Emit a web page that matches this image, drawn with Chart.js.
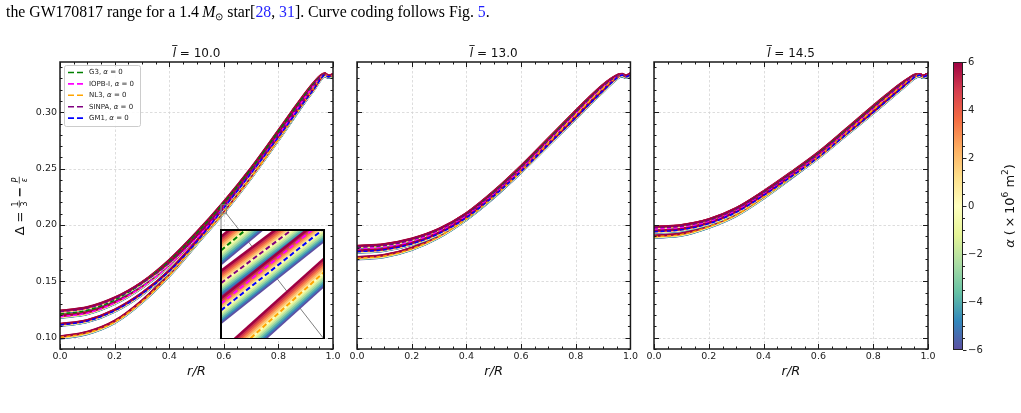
<!DOCTYPE html>
<html>
<head>
<meta charset="utf-8">
<script src="https://cdn.jsdelivr.net/npm/chart.js@4.4.0/dist/chart.umd.min.js"></script>
<style>
body { margin: 0; background: #fff; width: 1021px; height: 413px; overflow: hidden; position: relative; }
canvas { position: absolute; }
#caption { position: absolute; left: 6px; top: 2px; font-family: "Liberation Serif", serif; font-size: 15.8px; line-height: 20px; white-space: nowrap; color: #000; z-index: 5; }
#caption .ref { color: #1f1fff; }
#caption sub { font-size: 10px; line-height: 0; vertical-align: -3px; }
</style>
</head>
<body>
<div id="caption">the GW170817 range for a 1.4&#8201;<i>M</i><sub>&#8857;</sub> star[<span class="ref">28</span>, <span class="ref">31</span>]. Curve coding follows Fig. <span class="ref">5</span>.</div>
<canvas id="p1" width="345" height="413" style="left:0;top:0"></canvas>
<canvas id="p2" width="300" height="413" style="left:340px;top:0"></canvas>
<canvas id="p3" width="300" height="413" style="left:640px;top:0"></canvas>
<canvas id="inset" width="105" height="110" style="left:220px;top:229px"></canvas>
<canvas id="cb" width="81" height="413" style="left:940px;top:0"></canvas>
<script>
// ==========================================
// DATOS
// ==========================================
const rGrid = [0, 0.1, 0.2, 0.3, 0.4, 0.5, 0.6, 0.7, 0.8, 0.85, 0.9, 0.93, 0.955, 0.97, 0.983, 1.0];

const eosNames = ['G3', 'IOPB-I', 'NL3', 'SINPA', 'GM1'];
const eosColors = ['#008000', '#ff00ff', '#ffa500', '#800080', '#0000ff'];
const alphaVals = [-6, -5, -4, -3, -2, -1, 0, 1, 2, 3, 4, 5, 6];
// desplazamiento de Delta para alpha = 6 (x10^6 m^2), por EOS
const alphaSpread = [0.0010, 0.0009, 0.0010, 0.0009, 0.0009];

const panelLabels = ['10.0', '13.0', '14.5'];

// l = 10.0, alpha = 0
const g3_10    = [0.1210,0.1243,0.1335,0.1482,0.1680,0.1925,0.2197,0.2497,0.2830,0.3000,0.3165,0.3255,0.3318,0.3335,0.3316,0.3326];
const iopb_10  = [0.1186,0.1218,0.1308,0.1450,0.1640,0.1880,0.2157,0.2462,0.2795,0.2968,0.3140,0.3240,0.3312,0.3334,0.3316,0.3326];
const nl3_10   = [0.1003,0.1042,0.1140,0.1320,0.1555,0.1835,0.2115,0.2425,0.2760,0.2935,0.3112,0.3218,0.3305,0.3332,0.3316,0.3326];
const sinpa_10 = [0.1231,0.1262,0.1347,0.1482,0.1662,0.1896,0.2169,0.2472,0.2805,0.2978,0.3148,0.3245,0.3314,0.3334,0.3316,0.3326];
const gm1_10   = [0.1113,0.1148,0.1240,0.1388,0.1588,0.1848,0.2151,0.2460,0.2780,0.2945,0.3110,0.3205,0.3295,0.3330,0.3316,0.3326];

// l = 13.0
const g3_13    = [0.1800,0.1816,0.1866,0.1955,0.2095,0.2290,0.2515,0.2760,0.3005,0.3125,0.3235,0.3290,0.3324,0.3330,0.3314,0.3334];
const iopb_13  = [0.1790,0.1806,0.1856,0.1946,0.2085,0.2277,0.2500,0.2745,0.2990,0.3113,0.3227,0.3285,0.3321,0.3330,0.3314,0.3334];
const nl3_13   = [0.1705,0.1725,0.1788,0.1898,0.2055,0.2250,0.2478,0.2728,0.2975,0.3098,0.3212,0.3275,0.3318,0.3329,0.3314,0.3334];
const sinpa_13 = [0.1806,0.1822,0.1870,0.1957,0.2093,0.2285,0.2508,0.2752,0.2998,0.3120,0.3232,0.3288,0.3323,0.3330,0.3314,0.3334];
const gm1_13   = [0.1763,0.1780,0.1832,0.1924,0.2065,0.2256,0.2474,0.2712,0.2950,0.3072,0.3190,0.3260,0.3312,0.3329,0.3314,0.3334];

// l = 14.5
const g3_14    = [0.1972,0.1988,0.2040,0.2140,0.2290,0.2458,0.2636,0.2840,0.3048,0.3148,0.3243,0.3293,0.3326,0.3328,0.3314,0.3334];
const iopb_14  = [0.1964,0.1980,0.2032,0.2131,0.2280,0.2446,0.2622,0.2826,0.3032,0.3136,0.3234,0.3288,0.3323,0.3328,0.3314,0.3334];
const nl3_14   = [0.1896,0.1915,0.1985,0.2090,0.2245,0.2422,0.2608,0.2812,0.3022,0.3126,0.3226,0.3284,0.3321,0.3328,0.3314,0.3334];
const sinpa_14 = [0.1976,0.1991,0.2042,0.2140,0.2287,0.2453,0.2630,0.2833,0.3040,0.3142,0.3240,0.3291,0.3325,0.3328,0.3314,0.3334];
const gm1_14   = [0.1940,0.1957,0.2012,0.2113,0.2262,0.2427,0.2600,0.2800,0.2998,0.3102,0.3205,0.3268,0.3316,0.3328,0.3314,0.3334];

// inset (zoom en r/R = 0.59 .. 0.61, l = 10.0)
const insetR = [0.59, 0.61];
const insetRange = { xMin: 0.59, xMax: 0.61, yMin: 0.210, yMax: 0.218 };
const g3_in    = [0.2165, 0.2228];
const iopb_in  = [0.2126, 0.2187];
const nl3_in   = [0.2081, 0.2149];
const sinpa_in = [0.2141, 0.2198];
const gm1_in   = [0.2121, 0.2181];

// ticks
const xTicks = [0, 0.2, 0.4, 0.6, 0.8, 1.0];
const yTicks = [0.10, 0.15, 0.20, 0.25, 0.30];
const yMin = 0.09, yMax = 0.3446;
const cbTicks = [-6, -4, -2, 0, 2, 4, 6];

// mapa de color Spectral (alpha = 6 arriba, -6 abajo)
const spectral = ['#9e0142','#d53e4f','#f46d43','#fdae61','#fee08b','#ffffbf','#e6f598','#abdda4','#66c2a5','#3288bd','#5e4fa2'];

Chart.defaults.font.family = '"DejaVu Sans", sans-serif';
Chart.defaults.color = '#222';

// ==========================================
// AUXILIARES
// ==========================================
function hexToRgb(h) {
    return [parseInt(h.slice(1, 3), 16), parseInt(h.slice(3, 5), 16), parseInt(h.slice(5, 7), 16)];
}

function alphaColor(a) {
    const t = (6 - a) / 12 * (spectral.length - 1);
    const i = Math.min(Math.floor(t), spectral.length - 2);
    const f = t - i;
    const c0 = hexToRgb(spectral[i]), c1 = hexToRgb(spectral[i + 1]);
    const c = c0.map((v, k) => Math.round(v + (c1[k] - v) * f));
    return `rgb(${c[0]},${c[1]},${c[2]})`;
}

// bandas de alpha primero, luego las curvas alpha = 0 punteadas
function buildDatasets(vals, xs, bandW, dashW, dash) {
    const sets = [];
    let n = 0;
    eosNames.forEach((name, e) => {
        alphaVals.forEach(a => {
            sets.push({
                data: xs.map((x, i) => ({ x: x, y: vals[e][i] + a / 6 * alphaSpread[e] })),
                borderColor: alphaColor(a),
                borderWidth: bandW,
                pointRadius: 0,
                cubicInterpolationMode: 'monotone',
                order: 10000 - n++
            });
        });
    });
    eosNames.forEach((name, e) => {
        sets.push({
            label: name,
            data: xs.map((x, i) => ({ x: x, y: vals[e][i] })),
            borderColor: eosColors[e],
            borderWidth: dashW,
            borderDash: dash,
            pointRadius: 0,
            cubicInterpolationMode: 'monotone',
            order: 10000 - n++
        });
    });
    return sets;
}

function seg(ctx, x1, y1, x2, y2) {
    ctx.beginPath();
    ctx.moveTo(x1, y1);
    ctx.lineTo(x2, y2);
    ctx.stroke();
}

// rejilla punteada + ejes con ticks hacia adentro (estilo matplotlib)
const framePlugin = {
    id: 'frame',
    beforeDatasetsDraw(chart) {
        const { ctx, chartArea: a, scales: { x, y } } = chart;
        ctx.save();
        ctx.strokeStyle = '#d4d4d4';
        ctx.lineWidth = 0.8;
        ctx.setLineDash([2.5, 2]);
        xTicks.forEach(v => {
            const px = Math.round(x.getPixelForValue(v)) + 0.5;
            seg(ctx, px, a.top, px, a.bottom);
        });
        yTicks.forEach(v => {
            const py = Math.round(y.getPixelForValue(v)) + 0.5;
            seg(ctx, a.left, py, a.right, py);
        });
        ctx.restore();
    },
    afterDatasetsDraw(chart) {
        const { ctx, chartArea: a, scales: { x, y } } = chart;
        ctx.save();
        ctx.strokeStyle = '#1a1a1a';
        ctx.lineWidth = 1;
        for (let k = 0; k <= 20; k++) {
            const px = Math.round(x.getPixelForValue(k / 20)) + 0.5;
            const len = (k % 4 === 0) ? 5 : 2.5;
            seg(ctx, px, a.bottom, px, a.bottom - len);
            seg(ctx, px, a.top, px, a.top + len);
        }
        for (let k = 9; k <= 34; k++) {
            const py = Math.round(y.getPixelForValue(k / 100)) + 0.5;
            const len = (k % 5 === 0) ? 5 : 2.5;
            seg(ctx, a.left, py, a.left + len, py);
            seg(ctx, a.right, py, a.right - len, py);
        }
        ctx.lineWidth = 1.5;
        ctx.strokeRect(a.left, a.top, a.right - a.left, a.bottom - a.top);

        // titulo  l-barra = valor
        const cx = (a.left + a.right) / 2, by = 56.5;
        ctx.fillStyle = '#111';
        ctx.textBaseline = 'alphabetic';
        ctx.font = 'italic 12px "DejaVu Sans"';
        const wl = ctx.measureText('l').width;
        ctx.font = '12px "DejaVu Sans"';
        const rest = ' = ' + chart.options.plugins.frame.label;
        const wr = ctx.measureText(rest).width;
        const x0 = cx - (wl + wr) / 2;
        ctx.font = 'italic 12px "DejaVu Sans"';
        ctx.fillText('l', x0, by);
        ctx.lineWidth = 0.9;
        seg(ctx, x0 - 0.5, by - 11, x0 + wl + 1.5, by - 11);
        ctx.font = '12px "DejaVu Sans"';
        ctx.fillText(rest, x0 + wl, by);

        // titulo eje x
        ctx.font = 'italic 13px "DejaVu Sans"';
        ctx.textAlign = 'center';
        ctx.fillText('r/R', cx, 375);
        ctx.restore();
    }
};

// leyenda, recuadro del zoom y titulo del eje y (solo panel 1)
const panel1Plugin = {
    id: 'panel1Extras',
    beforeDatasetsDraw(chart) {
        const { ctx } = chart;
        ctx.save();
        ctx.fillStyle = '#fff';
        ctx.fillRect(221, 230, 103, 109);
        ctx.restore();
    },
    afterDatasetsDraw(chart) {
        const { ctx, chartArea: a, scales: { x, y } } = chart;
        ctx.save();
        // recuadro indicador + conectores
        const rx0 = x.getPixelForValue(insetRange.xMin), rx1 = x.getPixelForValue(insetRange.xMax);
        const ry0 = y.getPixelForValue(insetRange.yMax), ry1 = y.getPixelForValue(insetRange.yMin);
        ctx.strokeStyle = '#808080';
        ctx.lineWidth = 1;
        ctx.strokeRect(rx0, ry0, rx1 - rx0, ry1 - ry0);
        seg(ctx, rx0, ry0, 221, 230);
        seg(ctx, rx1, ry1, 324, 339);

        // leyenda
        const lx = a.left + 4, ly = a.top + 3;
        ctx.fillStyle = 'rgba(255,255,255,0.85)';
        ctx.strokeStyle = '#cccccc';
        ctx.lineWidth = 1;
        ctx.beginPath();
        ctx.roundRect(lx + 0.5, ly + 0.5, 76, 61, 2);
        ctx.fill();
        ctx.stroke();
        eosNames.forEach((name, i) => {
            const yy = ly + 7.5 + i * 11.4;
            ctx.strokeStyle = eosColors[i];
            ctx.lineWidth = 1.6;
            ctx.setLineDash([6, 3]);
            seg(ctx, lx + 4, yy, lx + 20, yy);
            ctx.setLineDash([]);
            ctx.fillStyle = '#222';
            ctx.textBaseline = 'middle';
            ctx.font = '7px "DejaVu Sans"';
            let tx = lx + 25;
            const p1 = name + ', ';
            ctx.fillText(p1, tx, yy);
            tx += ctx.measureText(p1).width;
            ctx.font = 'italic 7px "DejaVu Sans"';
            ctx.fillText('\u03b1', tx, yy);
            tx += ctx.measureText('\u03b1').width;
            ctx.font = '7px "DejaVu Sans"';
            ctx.fillText(' = 0', tx, yy);
        });

        // titulo eje y:  Delta = 1/3 - P/epsilon
        ctx.translate(19, 206);
        ctx.rotate(-Math.PI / 2);
        ctx.fillStyle = '#111';
        ctx.strokeStyle = '#111';
        ctx.textBaseline = 'alphabetic';
        const big = '13px "DejaVu Sans"', sm = '8px "DejaVu Sans"', smIt = 'italic 8px "DejaVu Sans"';
        const parts = [
            { t: '\u0394', f: big }, { gap: 4 }, { t: '=', f: big }, { gap: 4 },
            { frac: ['1', '3'], f: sm }, { gap: 3 }, { t: '\u2212', f: 'bold ' + big }, { gap: 3 },
            { frac: ['P', '\u03b5'], f: smIt }
        ];
        let total = 0;
        parts.forEach(p => {
            if (p.gap) { p.w = p.gap; }
            else if (p.frac) { ctx.font = p.f; p.w = Math.max(ctx.measureText(p.frac[0]).width, ctx.measureText(p.frac[1]).width) + 2; }
            else { ctx.font = p.f; p.w = ctx.measureText(p.t).width; }
            total += p.w;
        });
        let px = -total / 2;
        const base = 4.7, axis = base - 4.4;
        parts.forEach(p => {
            if (p.frac) {
                ctx.font = p.f;
                ctx.textAlign = 'center';
                ctx.fillText(p.frac[0], px + p.w / 2, axis - 1.5);
                ctx.fillText(p.frac[1], px + p.w / 2, axis + 7.5);
                ctx.lineWidth = 0.7;
                seg(ctx, px, axis, px + p.w, axis);
                ctx.textAlign = 'left';
            } else if (p.t) {
                ctx.font = p.f;
                ctx.textAlign = 'left';
                ctx.fillText(p.t, px, base);
            }
            px += p.w;
        });
        ctx.restore();
    }
};

// ==========================================
// PANELES
// ==========================================
const panels = [
    { id: 'p1', label: panelLabels[0], vals: [g3_10, iopb_10, nl3_10, sinpa_10, gm1_10], yw: 60, pr: 12, showY: true },
    { id: 'p2', label: panelLabels[1], vals: [g3_13, iopb_13, nl3_13, sinpa_13, gm1_13], yw: 17, pr: 9, showY: false },
    { id: 'p3', label: panelLabels[2], vals: [g3_14, iopb_14, nl3_14, sinpa_14, gm1_14], yw: 14, pr: 12, showY: false }
];

panels.forEach(p => {
    const extra = p.id === 'p1' ? [framePlugin, panel1Plugin] : [framePlugin];
    new Chart(document.getElementById(p.id), {
        type: 'line',
        data: { datasets: buildDatasets(p.vals, rGrid, 2.2, 1.5, [4, 2.5]) },
        options: {
            responsive: false,
            animation: false,
            devicePixelRatio: 1,
            events: [],
            layout: { padding: { top: 62, right: p.pr, bottom: 0, left: 0 } },
            plugins: { legend: { display: false }, tooltip: { enabled: false }, frame: { label: p.label } },
            scales: {
                x: {
                    type: 'linear', min: 0, max: 1,
                    afterBuildTicks: s => { s.ticks = xTicks.map(v => ({ value: v })); },
                    afterFit: s => { s.height = 64; },
                    grid: { display: false, drawTicks: false },
                    border: { display: false },
                    ticks: { padding: 2, maxRotation: 0, autoSkip: false, font: { size: 9.5 }, color: '#222', callback: v => v.toFixed(1) }
                },
                y: {
                    type: 'linear', min: yMin, max: yMax,
                    afterBuildTicks: s => { s.ticks = yTicks.map(v => ({ value: v })); },
                    afterFit: s => { s.width = p.yw; },
                    grid: { display: false, drawTicks: false },
                    border: { display: false },
                    ticks: { display: p.showY, padding: 3, font: { size: 9.5 }, color: '#222', callback: v => v.toFixed(2) }
                }
            }
        },
        plugins: extra
    });
});

// ==========================================
// INSET (zoom)
// ==========================================
new Chart(document.getElementById('inset'), {
    type: 'line',
    data: { datasets: buildDatasets([g3_in, iopb_in, nl3_in, sinpa_in, gm1_in], insetR, 2.6, 2, [5, 3]) },
    options: {
        responsive: false,
        animation: false,
        devicePixelRatio: 1,
        events: [],
        layout: { padding: { top: 1, right: 1, bottom: 0, left: 1 } },
        plugins: { legend: { display: false }, tooltip: { enabled: false } },
        scales: {
            x: { type: 'linear', display: false, min: insetRange.xMin, max: insetRange.xMax },
            y: { type: 'linear', display: false, min: insetRange.yMin, max: insetRange.yMax }
        }
    },
    plugins: [{
        id: 'insetFrame',
        afterDatasetsDraw(chart) {
            const { ctx, chartArea: a } = chart;
            ctx.save();
            ctx.strokeStyle = '#000';
            ctx.lineWidth = 2;
            ctx.strokeRect(a.left, a.top, a.right - a.left, a.bottom - a.top);
            ctx.restore();
        }
    }]
});

// ==========================================
// BARRA DE COLOR
// ==========================================
new Chart(document.getElementById('cb'), {
    type: 'bar',
    data: {
        labels: ['alpha'],
        datasets: [{
            data: [[cbTicks[0], cbTicks[cbTicks.length - 1]]],
            backgroundColor: c => {
                const a = c.chart.chartArea;
                if (!a) return spectral[5];
                const g = c.chart.ctx.createLinearGradient(0, a.top, 0, a.bottom);
                spectral.forEach((col, i) => g.addColorStop(i / (spectral.length - 1), col));
                return g;
            },
            borderWidth: 0,
            barPercentage: 1,
            categoryPercentage: 1
        }]
    },
    options: {
        responsive: false,
        animation: false,
        devicePixelRatio: 1,
        events: [],
        layout: { padding: { top: 62, right: 0, bottom: 63, left: 13 } },
        plugins: { legend: { display: false }, tooltip: { enabled: false } },
        scales: {
            x: { display: false },
            y: {
                position: 'right',
                min: cbTicks[0], max: cbTicks[cbTicks.length - 1],
                afterBuildTicks: s => { s.ticks = cbTicks.map(v => ({ value: v })); },
                afterFit: s => { s.width = 58; },
                grid: { display: false, drawTicks: false },
                border: { display: false },
                ticks: { padding: 5, font: { size: 10 }, color: '#222', callback: v => v < 0 ? '\u2212' + Math.abs(v) : String(v) }
            }
        }
    },
    plugins: [{
        id: 'cbFrame',
        afterDraw(chart) {
            const { ctx, chartArea: a, scales: { y } } = chart;
            ctx.save();
            ctx.strokeStyle = '#222';
            ctx.lineWidth = 1;
            for (let k = -12; k <= 12; k++) {
                const py = Math.round(y.getPixelForValue(k / 2)) + 0.5;
                const len = (k % 4 === 0) ? 3.5 : 2;
                seg(ctx, a.right, py, a.right + len, py);
            }
            ctx.strokeRect(a.left + 0.5, a.top + 0.5, a.right - a.left - 1, a.bottom - a.top - 1);

            // etiqueta: alpha (x10^6 m^2)
            ctx.translate(69, 206);
            ctx.rotate(-Math.PI / 2);
            ctx.fillStyle = '#111';
            ctx.textBaseline = 'alphabetic';
            const parts = [
                { t: '\u03b1', f: 'italic 13px "DejaVu Sans"', dy: 0 },
                { t: ' (\u2009\u00d7\u200910', f: '13px "DejaVu Sans"', dy: 0 },
                { t: '6', f: '9px "DejaVu Sans"', dy: -5.5 },
                { t: ' m', f: '13px "DejaVu Sans"', dy: 0 },
                { t: '2', f: '9px "DejaVu Sans"', dy: -5.5 },
                { t: ')', f: '13px "DejaVu Sans"', dy: 0 }
            ];
            let total = 0;
            parts.forEach(p => { ctx.font = p.f; p.w = ctx.measureText(p.t).width; total += p.w; });
            let px = -total / 2;
            parts.forEach(p => { ctx.font = p.f; ctx.fillText(p.t, px, 4.5 + p.dy); px += p.w; });
            ctx.restore();
        }
    }]
});
</script>
</body>
</html>
